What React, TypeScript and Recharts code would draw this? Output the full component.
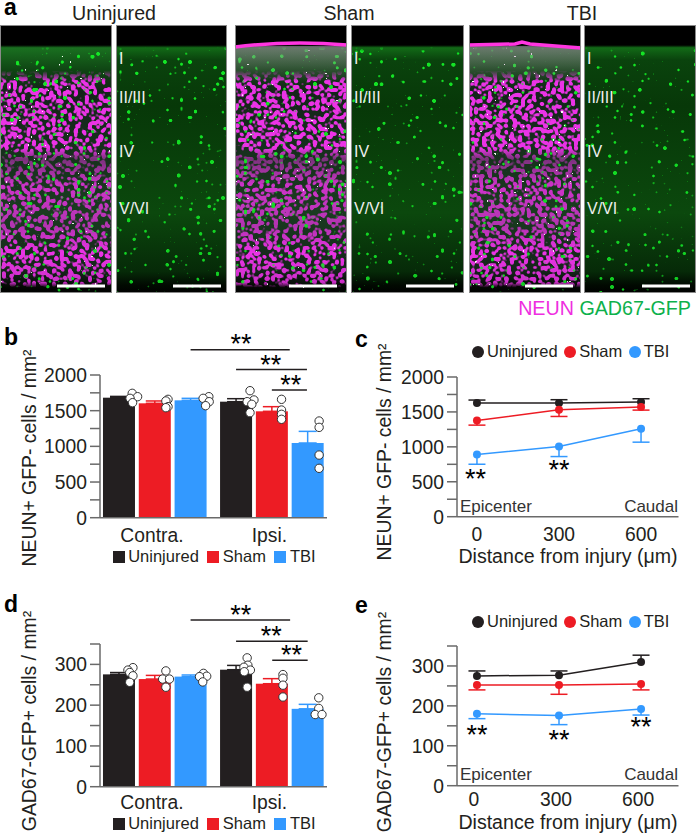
import React from 'react';
import { ComposedChart, Bar, Line, Scatter, ErrorBar, XAxis, YAxis, Legend, ReferenceLine, ReferenceDot } from 'recharts';

const INK = '#231f20';
const RED = '#ed1c24';
const BLUE = '#3399ff';
const AXIS = '#6a6a6a';
const FONT = '"Liberation Sans", Arial, sans-serif';

const groups = ['Uninjured', 'Sham', 'TBI'];
const groupColors = [INK, RED, BLUE];
const barSlots = [1, 2, 3, 4.27, 5.27, 6.27];
const barTicks = [1.92, 5.2];
const barTickNames: Record<string, string> = { '1.92': 'Contra.', '5.2': 'Ipsi.' };

// panel b
const neunBars = [1682, 1603, 1645, 1626, 1491, 1047];
const neunBarTops = [1700, 1636, 1673, 1668, 1556, 1210];
const neunPoints = [
  { x: 1.37, y: 1743 }, { x: 1.52, y: 1696 }, { x: 1.31, y: 1673 }, { x: 1.38, y: 1612 },
  { x: 2.37, y: 1659 }, { x: 2.31, y: 1636 }, { x: 2.37, y: 1556 }, { x: 2.31, y: 1542 },
  { x: 3.51, y: 1696 }, { x: 3.35, y: 1673 }, { x: 3.52, y: 1626 }, { x: 3.42, y: 1570 },
  { x: 4.66, y: 1780 }, { x: 4.77, y: 1650 }, { x: 4.58, y: 1626 }, { x: 4.71, y: 1589 }, { x: 4.66, y: 1472 },
  { x: 5.54, y: 1659 }, { x: 5.54, y: 1509 }, { x: 5.54, y: 1449 }, { x: 5.54, y: 1379 },
  { x: 6.59, y: 1355 }, { x: 6.59, y: 1266 }, { x: 6.59, y: 878 }, { x: 6.59, y: 692 },
];
const neunBrackets = [
  { from: 3.0, to: 5.77, level: 2353, starX: 4.41, starY: 2449 },
  { from: 4.27, to: 6.25, level: 2077, starX: 5.24, starY: 2155 },
  { from: 5.27, to: 6.25, level: 1790, starX: 5.8, starY: 1874 },
];

// panel d
const gadBars = [275.5, 264, 270, 287, 252.6, 191];
const gadBarTops = [280, 273, 274, 297.5, 265, 202];
const gadPoints = [
  { x: 1.39, y: 292 }, { x: 1.25, y: 286 }, { x: 1.3, y: 280 }, { x: 1.39, y: 272 }, { x: 1.3, y: 256 },
  { x: 2.31, y: 284 }, { x: 2.22, y: 264 }, { x: 2.41, y: 264 }, { x: 2.31, y: 244 },
  { x: 3.36, y: 278 }, { x: 3.45, y: 271 }, { x: 3.25, y: 270 }, { x: 3.34, y: 257 },
  { x: 4.58, y: 316 }, { x: 4.6, y: 298 }, { x: 4.49, y: 293 }, { x: 4.67, y: 286 }, { x: 4.5, y: 282 }, { x: 4.58, y: 244 },
  { x: 5.58, y: 275 }, { x: 5.58, y: 266 }, { x: 5.58, y: 249 }, { x: 5.58, y: 220 },
  { x: 6.58, y: 218 }, { x: 6.58, y: 192 }, { x: 6.48, y: 177 }, { x: 6.67, y: 177 },
];
const gadBrackets = [
  { from: 3.0, to: 5.78, level: 409, starX: 4.4, starY: 424 },
  { from: 4.27, to: 6.27, level: 357, starX: 5.25, starY: 372 },
  { from: 5.28, to: 6.27, level: 310, starX: 5.82, starY: 325.5 },
];

// panels c and e
const distances = [0, 300, 600];
const neunLineMeans = [[1627, 1627, 1641], [1378, 1531, 1569], [890, 1005, 1258]];
const neunLineCaps = [[1670, 1675, 1689], [1311, 1435, 1526], [751, 861, 1067]];
const neunStars = [{ x: -5, y: 553 }, { x: 300, y: 683 }];
const gadLineMeans = [[275, 277, 310], [252, 252, 255], [180, 176, 192]];
const gadLineCaps = [[287.5, 287.5, 327], [240, 229, 240], [168, 153, 177]];
const gadStars = [{ x: 0, y: 130 }, { x: 300, y: 118 }, { x: 600, y: 150 }];

const neunTicks = [0, 250, 500, 750, 1000, 1250, 1500, 1750, 2000];
const neunLabels = [0, 500, 1000, 1500, 2000];
const gadTicks = [0, 50, 100, 150, 200, 250, 300, 350];
const gadLabels = [0, 100, 200, 300];

const layers = [{ name: 'I', y: 64 }, { name: 'II/III', y: 103 }, { name: 'IV', y: 157 }, { name: 'V/VI', y: 214 }];
const panels = [
  { x: 0, w: 112, merged: true, seed: 3, bar: [57, 105] },
  { x: 116, w: 111, merged: false, seed: 3, bar: [173, 221] },
  { x: 235, w: 112, merged: true, seed: 11, bar: [289, 337], streak: `M235 47 Q290 40 347 45` },
  { x: 351, w: 113, merged: false, seed: 11, bar: [406, 454] },
  { x: 469, w: 112, merged: true, seed: 23, bar: [525, 573], streak: `M469 45 L515 44 L522 42 L530 44 L581 48` },
  { x: 584, w: 112, merged: false, seed: 23, bar: [642, 690] },
];
const panelTitles = [{ t: 'Uninjured', x: 114 }, { t: 'Sham', x: 349 }, { t: 'TBI', x: 582 }];

const barRows = (values: number[], tops: number[]) =>
  values.map((v, i) => {
    const g = i % 3;
    return { x: barSlots[i], [`v${g}`]: v, [`e${g}`]: [0, tops[i] - v] };
  });

const lineRows = (means: number[][], caps: number[][]) =>
  distances.map((d, i) => ({
    x: d,
    m0: means[0][i], m1: means[1][i], m2: means[2][i],
    c0: caps[0][i], c1: caps[1][i], c2: caps[2][i],
  }));

const textStyle = { fontFamily: FONT, fill: INK };

function SideLabel({ x, y, text }: { x: number; y: number; text: string }) {
  return (
    <text x={x} y={y} transform={`rotate(-90 ${x} ${y})`} textAnchor="middle" dominantBaseline="central" fontSize={19.4} {...textStyle}>
      {text}
    </text>
  );
}

function PanelLetter({ x, y, t }: { x: number; y: number; t: string }) {
  return (
    <div style={{ position: 'absolute', left: x, top: y, fontFamily: FONT, fontWeight: 700, fontSize: 23, lineHeight: '24px', color: '#000' }}>{t}</div>
  );
}

function SquareLegend({ payload }: any) {
  return (
    <div style={{ display: 'flex', alignItems: 'center', fontFamily: FONT, fontSize: 16.5, color: INK, whiteSpace: 'nowrap' }}>
      {(payload || []).filter((p: any) => p.type !== 'none').map((p: any) => (
        <span key={p.value} style={{ display: 'flex', alignItems: 'center', marginRight: 8.5 }}>
          <span style={{ width: 12, height: 12, background: p.color, marginRight: 3.5 }} />
          {p.value}
        </span>
      ))}
    </div>
  );
}

function DotLegend({ payload }: any) {
  return (
    <div style={{ display: 'flex', alignItems: 'center', fontFamily: FONT, fontSize: 16.5, color: INK, whiteSpace: 'nowrap' }}>
      {(payload || []).map((p: any) => (
        <span key={p.value} style={{ display: 'flex', alignItems: 'center', marginRight: 6.5 }}>
          <span style={{ width: 12, height: 12, borderRadius: 6, background: p.color, marginRight: 3 }} />
          {p.value}
        </span>
      ))}
    </div>
  );
}

const Stars = (p: any) => (
  <text x={p.cx} y={p.cy + 10} textAnchor="middle" fontSize={27} fontFamily={FONT} fill="#000">**</text>
);

const OpenDot = (p: any) => <circle cx={p.cx} cy={p.cy} r={4.2} fill="#fff" stroke="#333" strokeWidth={1} />;

const WideBar = (p: any) => {
  if (!p.height) return <g />;
  return <rect x={p.x + p.width / 2 - 16} y={p.y} width={32} height={p.height} fill={p.fill} />;
};

function BarPanel(props: any) {
  const { top, height, marginTop, marginBottom, rows, points, brackets, ticks, labels, max, label, labelY, legendTop, tickMargin } = props;
  return (
    <div style={{ position: 'absolute', left: 0, top }}>
      <ComposedChart width={348} height={height} data={rows} margin={{ left: 40, right: 21, top: marginTop, bottom: marginBottom }}>
        <XAxis dataKey="x" type="number" domain={[0.47, 6.81]} ticks={barTicks} tickFormatter={(v: number) => barTickNames[String(v)]}
          tickLine={false} height={30} tickMargin={tickMargin} interval={0} allowDataOverflow
          axisLine={{ stroke: AXIS, strokeWidth: 1.5 }} tick={{ fontSize: 19.3, fontFamily: FONT, fill: INK }} />
        <YAxis width={60} type="number" domain={[0, max]} ticks={ticks} interval={0} tickSize={10} tickMargin={3}
          tickFormatter={(v: number) => (labels.includes(v) ? String(v) : '')}
          axisLine={{ stroke: AXIS, strokeWidth: 1.5 }} tickLine={{ stroke: AXIS, strokeWidth: 1.5 }}
          tick={{ fontSize: 19.3, fontFamily: FONT, fill: INK }} />
        {groups.map((g, i) => (
          <Bar key={g} dataKey={`v${i}`} name={g} fill={groupColors[i]} stackId="all" shape={WideBar} isAnimationActive={false}>
            <ErrorBar dataKey={`e${i}`} direction="y" width={9} strokeWidth={1.5} stroke={groupColors[i]} isAnimationActive={false} />
          </Bar>
        ))}
        <Scatter data={points} dataKey="y" shape={OpenDot} legendType="none" isAnimationActive={false} />
        {brackets.map((b: any) => (
          <ReferenceLine key={b.level} ifOverflow="visible" stroke={INK} strokeWidth={1.5}
            segment={[{ x: b.from, y: b.level }, { x: b.to, y: b.level }]} />
        ))}
        {brackets.map((b: any) => (
          <ReferenceDot key={`s${b.level}`} ifOverflow="visible" x={b.starX} y={b.starY} r={0} shape={Stars} />
        ))}
        <SideLabel x={29} y={labelY} text={label} />
        <Legend content={SquareLegend} layout="horizontal" verticalAlign="middle" align="center" itemSorter={null}
          wrapperStyle={{ left: 112.7, top: legendTop, width: 230, height: 20 }} />
      </ComposedChart>
    </div>
  );
}

function LinePanel(props: any) {
  const { top, height, marginTop, marginBottom, rows, stars, ticks, labels, max, label, labelY, legendTop, captionY, tickShift, plotHeight, titleY, tickMargin } = props;
  const perUnit = plotHeight / max;
  const errorDot = (i: number) => (p: any) => {
    const end = p.cy + (p.payload[`m${i}`] - p.payload[`c${i}`]) * perUnit;
    return (
      <g key={`${i}-${p.index}`}>
        <line x1={p.cx} x2={p.cx} y1={p.cy} y2={end} stroke={groupColors[i]} strokeWidth={1.5} />
        <line x1={p.cx - 8.5} x2={p.cx + 8.5} y1={end} y2={end} stroke={groupColors[i]} strokeWidth={1.5} />
        <circle cx={p.cx} cy={p.cy} r={4} fill={groupColors[i]} />
      </g>
    );
  };
  return (
    <div style={{ position: 'absolute', left: 348, top }}>
      <ComposedChart width={348} height={height} data={rows} margin={{ left: 49, right: 17.5, top: marginTop, bottom: marginBottom }}>
        <XAxis dataKey="x" type="number" domain={[-73, 737]} ticks={distances} tickLine={false} height={30} tickMargin={tickMargin} interval={0}
          axisLine={{ stroke: AXIS, strokeWidth: 1.5 }} tick={{ fontSize: 19.3, fontFamily: FONT, fill: INK, dx: tickShift }} />
        <YAxis width={60} type="number" domain={[0, max]} ticks={ticks} interval={0} tickSize={10} tickMargin={3}
          tickFormatter={(v: number) => (labels.includes(v) ? String(v) : '')}
          axisLine={{ stroke: AXIS, strokeWidth: 1.5 }} tickLine={{ stroke: AXIS, strokeWidth: 1.5 }}
          tick={{ fontSize: 19.3, fontFamily: FONT, fill: INK }} />
        {groups.map((g, i) => (
          <Line key={g} dataKey={`m${i}`} name={g} stroke={groupColors[i]} strokeWidth={1.5} dot={errorDot(i)} activeDot={false} isAnimationActive={false} />
        ))}
        {stars.map((s: any) => (
          <ReferenceDot key={s.x} ifOverflow="visible" x={s.x} y={s.y} r={0} shape={Stars} />
        ))}
        <SideLabel x={36} y={labelY} text={label} />
        <text x={112} y={captionY} fontSize={17} fontFamily={FONT} fill="#333">Epicenter</text>
        <text x={330} y={captionY} textAnchor="end" fontSize={17} fontFamily={FONT} fill="#333">Caudal</text>
        <text x={220} y={titleY} textAnchor="middle" fontSize={19.6} {...textStyle}>Distance from injury (μm)</text>
        <Legend content={DotLegend} layout="horizontal" verticalAlign="middle" align="center" itemSorter={null}
          wrapperStyle={{ left: 124, top: legendTop, width: 222, height: 20 }} />
      </ComposedChart>
    </div>
  );
}

function speckle(id: string, seed: number, freq: number, cut: number, blur: number, slope: number, lift: number, rgb: string) {
  return (
    <filter key={id} id={id} x="0" y="0" width="1" height="1" colorInterpolationFilters="sRGB">
      <feTurbulence type="fractalNoise" baseFrequency={freq} numOctaves={1} seed={seed} />
      <feColorMatrix values={`0 0 0 0 ${rgb.split(' ')[0]}  0 0 0 0 ${rgb.split(' ')[1]}  0 0 0 0 ${rgb.split(' ')[2]}  30 0 0 0 ${-30 * cut}`} />
      <feGaussianBlur stdDeviation={blur} />
      <feComponentTransfer>
        <feFuncA type="linear" slope={slope} intercept={lift} />
      </feComponentTransfer>
    </filter>
  );
}

function Micrographs() {
  return (
    <svg width={696} height={322} style={{ position: 'absolute', left: 0, top: 0 }}>
      <defs>
        <linearGradient id="gfpBase" x1="0" y1="0" x2="0" y2="1">
          <stop offset="0.075" stopColor="#000" />
          <stop offset="0.085" stopColor="#126a17" />
          <stop offset="0.13" stopColor="#0a430d" />
          <stop offset="0.3" stopColor="#073808" />
          <stop offset="0.7" stopColor="#0b480d" />
          <stop offset="0.92" stopColor="#062a08" />
          <stop offset="0.97" stopColor="#010a01" />
          <stop offset="1" stopColor="#000" />
        </linearGradient>
        <linearGradient id="mergeBase" x1="0" y1="0" x2="0" y2="1">
          <stop offset="0.075" stopColor="#000" />
          <stop offset="0.085" stopColor="#1a7020" />
          <stop offset="0.17" stopColor="#0f4413" />
          <stop offset="0.25" stopColor="#14241a" />
          <stop offset="0.7" stopColor="#1a3c20" />
          <stop offset="0.92" stopColor="#15241a" />
          <stop offset="0.98" stopColor="#030603" />
          <stop offset="1" stopColor="#000" />
        </linearGradient>
        <linearGradient id="neunFade" x1="0" y1="0" x2="0" y2="1">
          <stop offset="0.17" stopColor="#000" />
          <stop offset="0.21" stopColor="#fff" />
          <stop offset="0.46" stopColor="#fff" />
          <stop offset="0.5" stopColor="#777" />
          <stop offset="0.6" stopColor="#ddd" />
          <stop offset="0.75" stopColor="#bbb" />
          <stop offset="0.85" stopColor="#fff" />
          <stop offset="0.96" stopColor="#ddd" />
          <stop offset="0.98" stopColor="#000" />
        </linearGradient>
        <linearGradient id="gfpFade" x1="0" y1="0" x2="0" y2="1">
          <stop offset="0.08" stopColor="#000" />
          <stop offset="0.1" stopColor="#fff" />
          <stop offset="1" stopColor="#ddd" />
        </linearGradient>
        <linearGradient id="haze" x1="0" y1="0" x2="0" y2="1">
          <stop offset="0" stopColor="#b080b0" stopOpacity={0.55} />
          <stop offset="1" stopColor="#b080b0" stopOpacity={0} />
        </linearGradient>
        <mask id="neunMask" maskContentUnits="objectBoundingBox">
          <rect width="1" height="1" fill="url(#neunFade)" />
        </mask>
        <mask id="gfpMask" maskContentUnits="objectBoundingBox">
          <rect width="1" height="1" fill="url(#gfpFade)" />
        </mask>
        {panels.filter((p) => p.merged).map((p) => speckle(`neun${p.seed}`, p.seed, 0.36, 0.575, 0.85, 6, -0.6, '0.92 0.2 0.9'))}
        {panels.map((p) => p.merged ? null : speckle(`gfp${p.seed}`, p.seed + 40, 0.36, 0.7, 1.0, 11, -0.9, '0.08 0.9 0.15'))}
        {panels.filter((p) => p.merged).map((p) => speckle(`spot${p.seed}`, p.seed + 80, 0.36, 0.75, 0.7, 7, -0.7, '1 1 1'))}
      </defs>
      {panels.map((p, idx) => (
        <g key={p.x}>
          <rect x={p.x} y={25} width={p.w} height={268} fill={p.merged ? 'url(#mergeBase)' : 'url(#gfpBase)'} />
          {p.merged ? (
            <>
              <g mask="url(#neunMask)">
                <rect x={p.x} y={25} width={p.w} height={268} filter={`url(#neun${p.seed})`} />
              </g>
              <g mask="url(#gfpMask)">
                <rect x={p.x} y={25} width={p.w} height={268} filter={`url(#gfp${panels[idx + 1].seed})`} />
                <rect x={p.x} y={25} width={p.w} height={268} filter={`url(#spot${p.seed})`} />
              </g>
            </>
          ) : (
            <g mask="url(#gfpMask)">
              <rect x={p.x} y={25} width={p.w} height={268} filter={`url(#gfp${p.seed})`} />
            </g>
          )}
          {p.streak && <rect x={p.x} y={46} width={p.w} height={36} fill="url(#haze)" />}
          {p.streak && <path d={p.streak} stroke="#ff35e0" strokeWidth={3.5} fill="none" />}
          <rect x={p.bar[0]} y={284.5} width={p.bar[1] - p.bar[0]} height={3} fill="#fff" />
          <rect x={p.x + 0.5} y={25.5} width={p.w - 1} height={267} fill="none" stroke="#8a8a8a" strokeWidth={1} />
          {!p.merged && layers.map((l) => (
            <text key={l.name} x={p.x + 3} y={l.y} fontSize={16} fontFamily={FONT} fill="#eee">{l.name}</text>
          ))}
        </g>
      ))}
      {panelTitles.map((t) => (
        <text key={t.t} x={t.x} y={20} textAnchor="middle" fontSize={19.6} {...textStyle}>{t.t}</text>
      ))}
      <text x={691} y={315} textAnchor="end" fontSize={19.7} fontFamily={FONT}>
        <tspan fill="#ee2ee0">NEUN</tspan>
        <tspan fill="#0db14b"> GAD67-GFP</tspan>
      </text>
    </svg>
  );
}

export default function App() {
  return (
    <div style={{ position: 'absolute', left: 0, top: 0, width: 696, height: 834, background: '#fff', overflow: 'hidden' }}>
      <Micrographs />
      <PanelLetter x={4} y={-5} t="a" />
      <PanelLetter x={4} y={325} t="b" />
      <PanelLetter x={355} y={327} t="c" />
      <PanelLetter x={4} y={592} t="d" />
      <PanelLetter x={355} y={593} t="e" />
      <BarPanel top={320} height={260} marginTop={55} marginBottom={32.3} rows={barRows(neunBars, neunBarTops)} points={neunPoints}
        brackets={neunBrackets} ticks={neunTicks} labels={neunLabels} max={2000} label="NEUN+ GFP- cells / mm²" labelY={138} legendTop={227} tickMargin={5} />
      <BarPanel top={585} height={249} marginTop={59} marginBottom={17.3} rows={barRows(gadBars, gadBarTops)} points={gadPoints}
        brackets={gadBrackets} ticks={gadTicks} labels={gadLabels} max={350} label="GAD67-GFP+ cells / mm²" labelY={136} legendTop={229} tickMargin={3} />
      <LinePanel top={320} height={260} marginTop={57} marginBottom={33.3} rows={lineRows(neunLineMeans, neunLineCaps)} stars={neunStars}
        ticks={neunTicks} labels={neunLabels} max={2000} plotHeight={139.7} label="NEUN+ GFP- cells / mm²" labelY={132} legendTop={22}
        captionY={192} titleY={243} tickShift={0} tickMargin={5} />
      <LinePanel top={585} height={249} marginTop={61} marginBottom={18.3} rows={lineRows(gadLineMeans, gadLineCaps)} stars={gadStars}
        ticks={gadTicks} labels={gadLabels} max={350} plotHeight={139.7} label="GAD67-GFP+ cells / mm²" labelY={137} legendTop={27}
        captionY={195} titleY={244} tickShift={-3} tickMargin={1} />
    </div>
  );
}
